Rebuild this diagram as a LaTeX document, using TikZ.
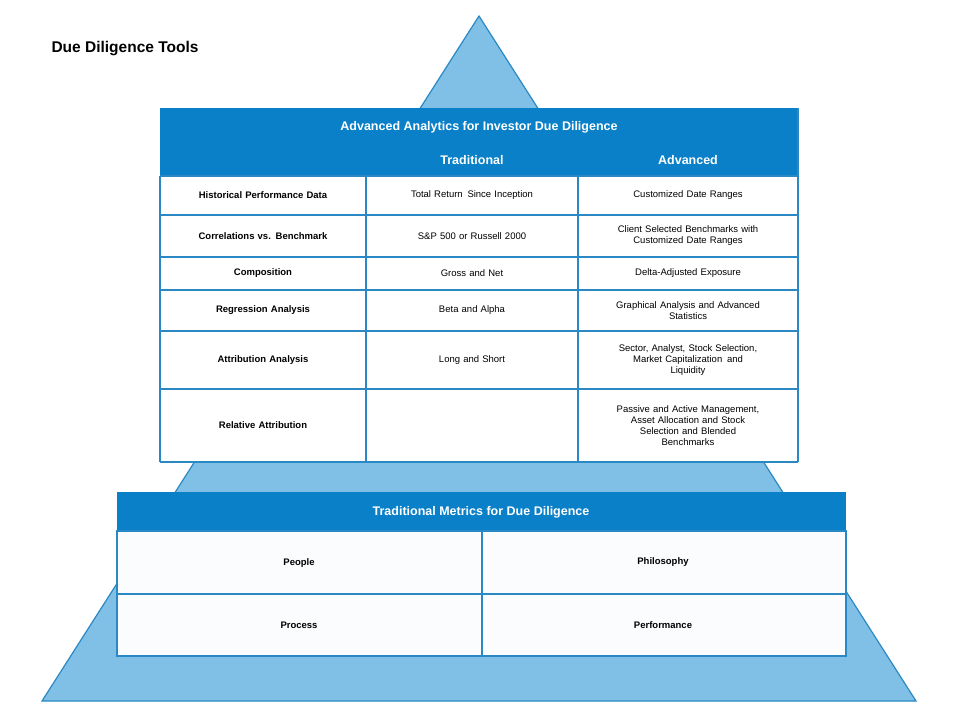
\documentclass[tikz,border=0pt]{standalone}
\usepackage{fontspec}
\setmainfont{Liberation Sans}
\definecolor{hdr}{HTML}{0A80C8}
\definecolor{tri}{HTML}{80C0E6}
\definecolor{triedge}{HTML}{2A88C4}
\definecolor{cellbg}{HTML}{FAFCFE}
\begin{document}
\begin{tikzpicture}[x=1pt,y=-1pt,
  cell/.style={font=\fontsize{9.5}{11}\selectfont, align=center, text width=200pt},
  bcell/.style={cell, font=\fontsize{9.5}{11}\selectfont\bfseries},
  hd/.style={text=white, font=\fontsize{12.5}{14}\selectfont\bfseries},
  grid/.style={draw=triedge, line width=1.2pt}]
\useasboundingbox (0,0) rectangle (960,720);
\fill[white] (0,0) rectangle (960,720);
\filldraw[fill=tri, draw=triedge, line width=1.2pt] (479,16) -- (916,701) -- (42,701) -- cycle;
\node[anchor=west, font=\fontsize{15.5}{18}\selectfont\bfseries] (title) at (48,49) {Due Diligence Tools};
% top table
\fill[white] (160,176) rectangle (798,462);
\fill[hdr] (160,108) rectangle (798,176);
\foreach \y in {176,215,257,290,331,389,462} \draw[grid] (160,\y) -- (798,\y);
\draw[grid] (160,176) -- (160,462);
\draw[grid] (798,108) -- (798,462);
\draw[grid] (366,176) -- (366,462);
\draw[grid] (578,176) -- (578,462);
\node[hd] (t1) at (479,127) {Advanced Analytics for Investor Due Diligence};
\node[hd] (t2) at (472,160) {Traditional};
\node[hd] (t3) at (688,160) {Advanced};
\node[bcell] (r1) at (263,195.5) {Historical Performance Data};
\node[bcell] (r2) at (263,236) {Correlations vs. Benchmark};
\node[bcell] (r3) at (263,273.5) {Composition};
\node[bcell] (r4) at (263,310.5) {Regression Analysis};
\node[bcell] (r5) at (263,360) {Attribution Analysis};
\node[bcell] (r6) at (263,425.5) {Relative Attribution};
\node[cell] (a1) at (472,195.5) {Total Return\, Since Inception};
\node[cell] (a2) at (472,236) {S\&P 500 or Russell 2000};
\node[cell] (a3) at (472,273.5) {Gross and Net};
\node[cell] (a4) at (472,310.5) {Beta and Alpha};
\node[cell] (a5) at (472,360) {Long and Short};
\node[cell] (b1) at (688,195.5) {Customized Date Ranges};
\node[cell] (b2) at (688,236) {Client Selected Benchmarks with\\Customized Date Ranges};
\node[cell] (b3) at (688,273.5) {Delta-Adjusted Exposure};
\node[cell] (b4) at (688,310.5) {Graphical Analysis and Advanced\\Statistics};
\node[cell] (b5) at (688,360) {Sector, Analyst, Stock Selection,\\Market Capitalization\, and\\Liquidity};
\node[cell] (b6) at (688,425.5) {Passive and Active Management,\\Asset Allocation and Stock\\Selection and Blended\\Benchmarks};
% bottom table
\fill[cellbg] (117,531) rectangle (846,656);
\fill[hdr] (117,492) rectangle (846,531);
\draw[grid] (117,531) rectangle (846,656);
\draw[grid] (117,594) -- (846,594);
\draw[grid] (482,531) -- (482,656);
\node[hd] (bt) at (481,512) {Traditional Metrics for Due Diligence};
\node[bcell] (p1) at (299,563) {People};
\node[bcell] (p2) at (663,562) {Philosophy};
\node[bcell] (p3) at (299,625) {Process};
\node[bcell] (p4) at (663,625) {Performance};
\end{tikzpicture}
\end{document}
